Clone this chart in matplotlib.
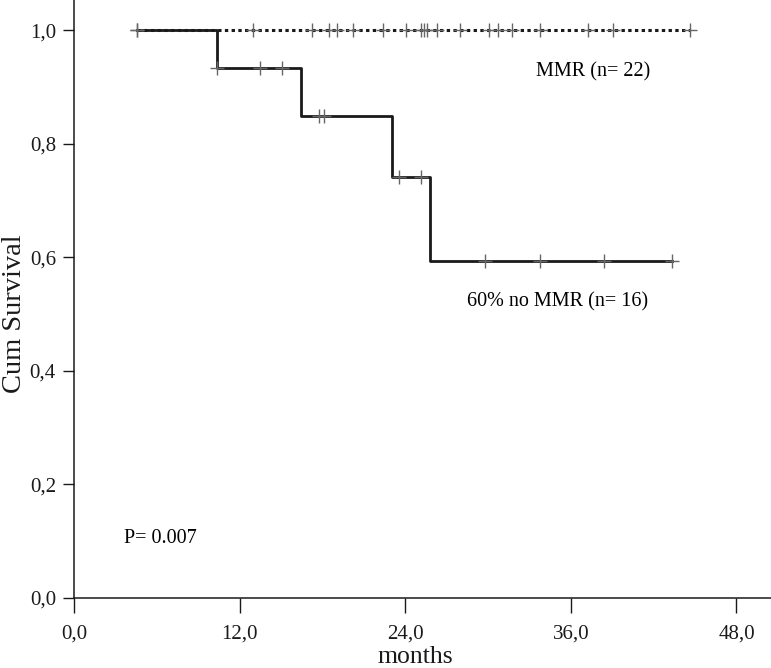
import numpy as np
import matplotlib
matplotlib.use("Agg")
import matplotlib.pyplot as plt

plt.rcParams['font.family'] = ['Liberation Serif', 'DejaVu Serif']

# no MMR group: step curve (time, survival)
nomm_times = [4.57, 10.35, 16.44, 23.04, 25.77, 43.34]
nomm_surv = [1.0, 0.933, 0.848, 0.742, 0.594, 0.594]
nomm_censor = [4.57, 10.35, 13.49, 15.06, 17.77, 18.13, 23.52, 25.14,
               29.8, 33.74, 38.38, 43.34]

# MMR group: no events
mmr_times = [4.57, 44.66]
mmr_surv = [1.0, 1.0]
mmr_censor = [4.57, 12.98, 17.26, 18.49, 19.07, 20.23, 22.41, 24.08, 25.16,
              25.38, 25.6, 26.33, 27.99, 30.09, 30.74, 31.76, 33.79, 37.27,
              39.08, 44.66]

x_ticks = [0, 12, 24, 36, 48]
x_labels = ["0,0", "12,0", "24,0", "36,0", "48,0"]
y_ticks = [0, 0.2, 0.4, 0.6, 0.8, 1.0]
y_labels = ["0,0", "0,2", "0,4", "0,6", "0,8", "1,0"]


def level_at(times, surv, t):
    i = np.searchsorted(times, t, side='right') - 1
    return surv[max(i, 0)]


fig = plt.figure(figsize=(7.71, 6.68), dpi=100)
ax = fig.add_axes([0.096, 0.1048, 0.904, 0.8952])

ax.step(mmr_times, mmr_surv, where='post', color='#1a1a1a', lw=2.2,
        linestyle=(0, (1.1, 1.1)), zorder=2)
ax.step(nomm_times, nomm_surv, where='post', color='#1a1a1a', lw=2.0, zorder=3)

ax.plot(mmr_censor, [level_at(mmr_times, mmr_surv, t) for t in mmr_censor],
        ls='none', marker='+', ms=10, mew=1.0, color='#666666', zorder=4)
ax.plot(nomm_censor, [level_at(nomm_times, nomm_surv, t) for t in nomm_censor],
        ls='none', marker='+', ms=10, mew=1.0, color='#666666', zorder=4)

ax.text(33.5, 0.919, "MMR (n= 22)", fontsize=14.5, ha='left', va='baseline')
ax.text(28.5, 0.513, "60% no MMR (n= 16)", fontsize=14.5, ha='left', va='baseline')
ax.text(3.64, 0.097, "P= 0.007", fontsize=14.5, ha='left', va='baseline')

ax.set_xlim(0, 50.5)
ax.set_ylim(0, 1.053)
ax.set_xticks(x_ticks)
ax.set_xticklabels(x_labels)
ax.set_yticks(y_ticks)
ax.set_yticklabels(y_labels)

ax.spines['top'].set_visible(False)
ax.spines['right'].set_visible(False)
for s in ['left', 'bottom']:
    ax.spines[s].set_linewidth(1.1)
    ax.spines[s].set_color('#1a1a1a')

ax.tick_params(axis='x', length=11, width=1.0, pad=8, labelsize=15, colors='#1a1a1a')
ax.tick_params(axis='y', length=8, width=1.0, pad=5, labelsize=15, colors='#1a1a1a')

ax.set_xlabel("months", fontsize=18.5, color='#1a1a1a')
ax.set_ylabel("Cum Survival", fontsize=20.5, color='#1a1a1a')
ax.yaxis.set_label_coords(-0.068, 0.5 / 1.053)
ax.xaxis.set_label_coords(0.49, -0.08)

fig.savefig("out.png", dpi=100)
